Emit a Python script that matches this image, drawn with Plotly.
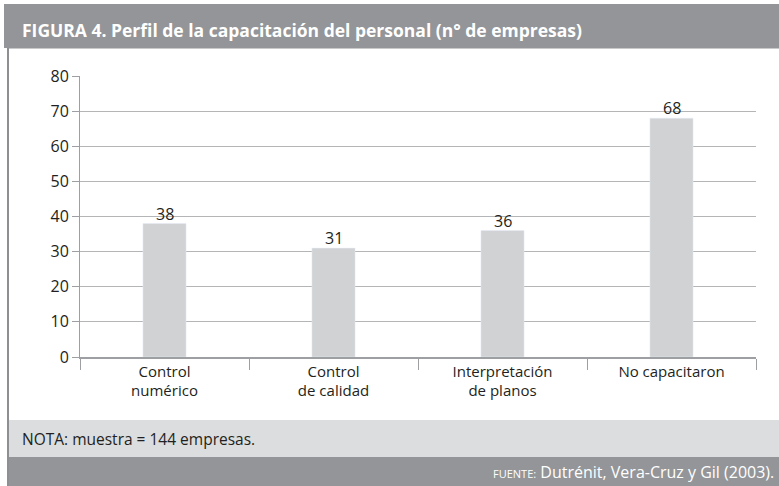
import plotly.graph_objects as go

categories = ["Control<br>numérico", "Control<br>de calidad", "Interpretación<br>de planos", "No capacitaron"]
values = [38, 31, 36, 68]
y_ticks = [0, 10, 20, 30, 40, 50, 60, 70, 80]

title_text = "FIGURA 4. Perfil de la capacitación del personal (n° de empresas)"
note_text = "NOTA: muestra = 144 empresas."
source_label = "FUENTE:"
source_text = "Dutrénit, Vera-Cruz y Gil (2003)."

W, H = 779, 486
L, R, T, B = 80, 756, 76, 357

def px(x):
    return (x - L) / (R - L)

def py(y):
    return (B - y) / (B - T)

fig = go.Figure(go.Bar(
    x=categories, y=values, marker_color="#d1d2d4", width=0.255,
))

dark = "#939598"
light = "#dcddde"
shapes = [
    dict(type="rect", xref="paper", yref="paper", x0=px(4), x1=px(779), y0=py(48), y1=py(4),
         fillcolor=dark, line_width=0, layer="below"),
    dict(type="line", xref="paper", yref="paper", x0=px(7), x1=px(779), y0=py(48.5), y1=py(48.5),
         line=dict(color="#c8c9cb", width=1)),
    dict(type="rect", xref="paper", yref="paper", x0=px(8), x1=px(779), y0=py(457), y1=py(420),
         fillcolor=light, line_width=0, layer="below"),
    dict(type="rect", xref="paper", yref="paper", x0=px(8), x1=px(779), y0=py(486), y1=py(457),
         fillcolor=dark, line_width=0, layer="below"),
    dict(type="line", xref="paper", yref="paper", x0=px(8), x1=px(8), y0=py(486), y1=py(48),
         line=dict(color="#8e8f92", width=2)),
]

annotations = [
    dict(text="<b>" + title_text + "</b>", xref="paper", yref="paper", x=px(20), y=py(30),
         xanchor="left", yanchor="middle", showarrow=False,
         font=dict(size=17.5, color="white", family="Open Sans")),
    dict(text=note_text, xref="paper", yref="paper", x=px(20), y=py(439),
         xanchor="left", yanchor="middle", showarrow=False,
         font=dict(size=15.5, color="#231f20", family="Open Sans")),
    dict(text="<span style='font-size:11px'>" + source_label + "</span> " + source_text,
         xref="paper", yref="paper", x=px(776), y=py(472),
         xanchor="right", yanchor="middle", showarrow=False,
         font=dict(size=16, color="white", family="Open Sans")),
]
for c, v in zip(categories, values):
    annotations.append(dict(
        text=str(v), x=c, y=v, xref="x", yref="y", xanchor="center", yanchor="bottom",
        showarrow=False, yshift=-3, font=dict(size=16, color="#231f20", family="Open Sans"),
    ))

fig.update_layout(
    width=W, height=H,
    margin=dict(l=L, r=W - R, t=T, b=H - B, pad=0),
    paper_bgcolor="white", plot_bgcolor="white",
    showlegend=False,
    shapes=shapes, annotations=annotations,
    font=dict(family="Open Sans", color="#231f20"),
    bargap=0.5,
)
fig.update_xaxes(
    showline=True, linecolor="#9d9fa2", linewidth=1.5,
    ticks="outside", tickson="boundaries", ticklen=11, tickcolor="#9d9fa2",
    tickfont=dict(size=15, color="#231f20"), showgrid=False,
)
fig.update_yaxes(
    range=[0, 80], tickvals=y_ticks, showline=True, linecolor="#9d9fa2", linewidth=1,
    ticks="outside", ticklen=7, tickcolor="#9d9fa2",
    gridcolor="#b4b5b7", gridwidth=1,
    tickfont=dict(size=16, color="#231f20"), zeroline=False,
)

fig.write_html("out.html", config={"displayModeBar": False},
               post_script="document.body.style.margin='0';")
